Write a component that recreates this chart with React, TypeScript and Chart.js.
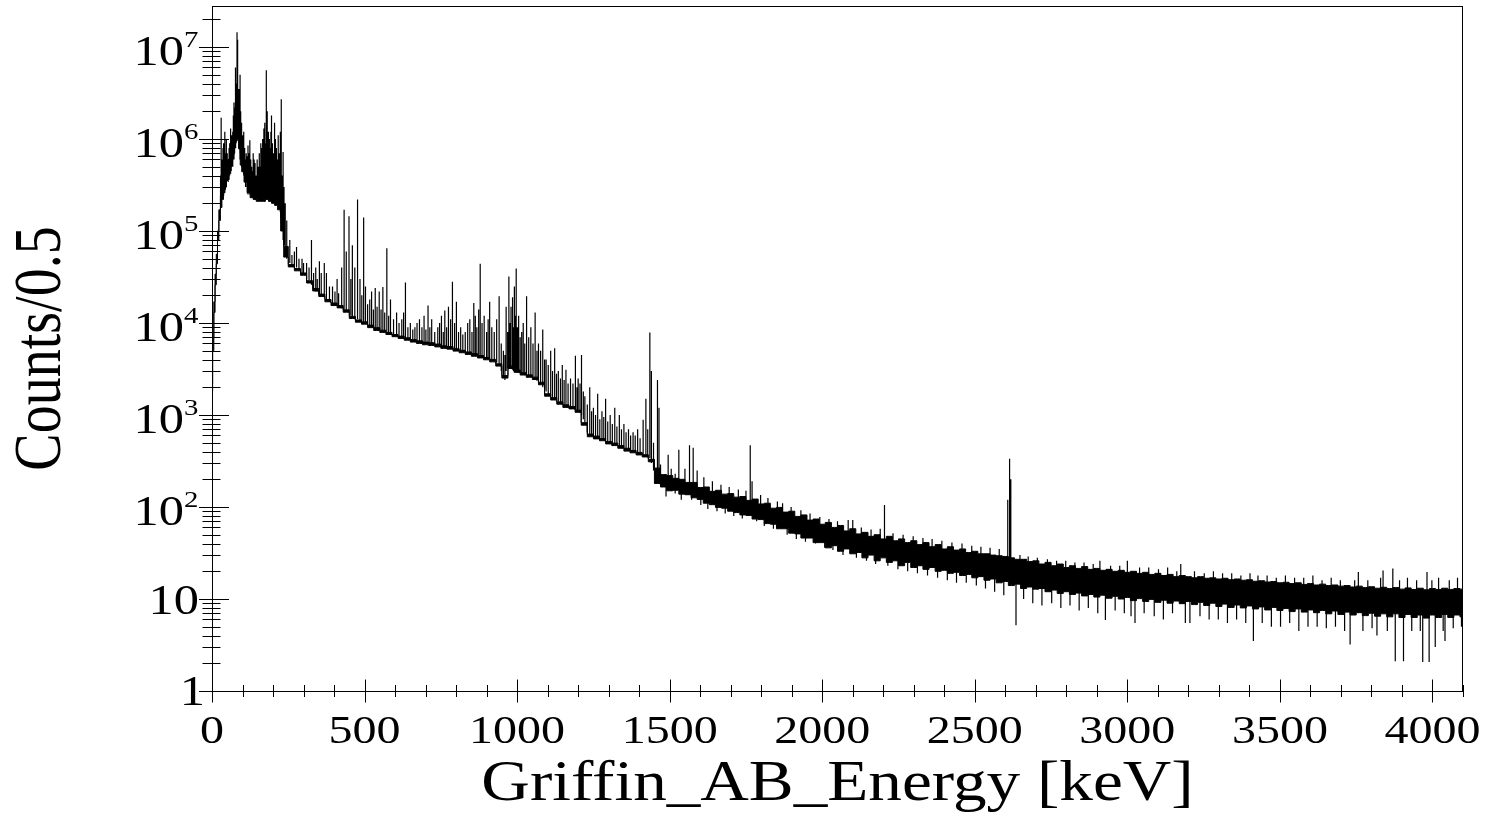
import React, { useEffect, useRef } from 'react';
import { Chart, registerables } from 'chart.js';

Chart.register(...registerables);

const X_MIN = 0;
const X_MAX = 4100;
const Y_MIN = 1;
const Y_MAX = 2.79e7;

const xTickValues = [0, 500, 1000, 1500, 2000, 2500, 3000, 3500, 4000];
const xTickLabels = ['0', '500', '1000', '1500', '2000', '2500', '3000', '3500', '4000'];
const yDecadeValues = [1, 10, 100, 1e3, 1e4, 1e5, 1e6, 1e7];
const yDecadeBase = ['1', '10', '10', '10', '10', '10', '10', '10'];
const yDecadeExp = ['', '', '2', '3', '4', '5', '6', '7'];
const xTitle = 'Griffin_AB_Energy [keV]';
const yTitle = 'Counts/0.5';

// Continuum band (lower / upper envelope of the histogram line), keV
const bandE = [
  0, 4, 8, 12, 16, 20, 25, 30, 35, 40, 45, 50, 55, 60, 65, 70, 75, 80, 85, 90, 95, 100, 110, 120, 130, 140, 150, 160, 170, 180, 190, 200, 210, 220, 230, 240,
  260, 280, 300, 320, 340, 360, 380, 400, 420, 440, 460, 480, 500, 520, 540, 560, 580, 600, 620, 640, 660, 680, 700, 720, 740, 760, 780, 800,
  820, 840, 860, 880, 900, 920, 940, 960, 980, 1000, 1020, 1040, 1060, 1080, 1100, 1120, 1140, 1160, 1180, 1200, 1220, 1240, 1260, 1280, 1300,
  1320, 1340, 1360, 1380, 1400, 1420, 1440,
  1460, 1480, 1500, 1520, 1540, 1560, 1580, 1600, 1620, 1640, 1660, 1680, 1700, 1720, 1740, 1760, 1780, 1800, 1820, 1840, 1860, 1880, 1900,
  1920, 1940, 1960, 1980, 2000, 2020, 2040, 2060, 2080, 2100, 2120, 2140, 2160, 2180, 2200, 2220, 2240, 2260, 2280, 2300, 2320, 2340, 2360,
  2380, 2400, 2420, 2440, 2460, 2480, 2500, 2520, 2540, 2560, 2580, 2600, 2620, 2640, 2660, 2680, 2700, 2720, 2740, 2760, 2780, 2800, 2820,
  2840, 2860, 2880, 2900, 2920, 2940, 2960, 2980, 3000, 3020, 3040, 3060, 3080, 3100, 3120, 3140, 3160, 3180, 3200, 3220, 3240, 3260, 3280,
  3300, 3320, 3340, 3360, 3380, 3400, 3420, 3440, 3460, 3480, 3500, 3520, 3540, 3560, 3580, 3600, 3620, 3640, 3660, 3680, 3700, 3720, 3740,
  3760, 3780, 3800, 3820, 3840, 3860, 3880, 3900, 3920, 3940, 3960, 3980, 4000, 4020, 4040, 4060, 4080, 4100,
];
const bandLo = [
  1800, 5000, 13000, 26000, 44000, 80000, 130000, 180000, 220000, 260000, 300000, 360000, 420000, 500000, 580000, 680000, 800000, 950000, 1000000, 780000, 520000, 440000, 340000, 260000, 230000, 220000, 210000, 210000, 210000, 220000, 210000, 200000, 190000, 170000, 100000, 52000,
  40700, 36900, 33000, 27200, 22300, 19400, 17000, 15500, 14600, 13100, 11200, 10200, 9700, 8900, 8300, 7900, 7500, 7100, 6800, 6500, 6200, 6000, 5800, 5700, 5500, 5300, 5200, 4950,
  4750, 4550, 4350, 4170, 3980, 3780, 3400, 2520, 3200, 2910, 2720, 2570, 2430, 2130, 1600, 1455, 1310, 1210, 1165, 1070, 775, 580, 550, 525, 485,
  465, 435, 405, 388, 368, 350, 310,
  180, 165, 150, 152, 138, 136, 126, 121, 110, 106, 99, 97, 90, 87, 82, 81, 74, 73, 66, 65, 58, 58, 52,
  51, 46, 46, 41, 41, 36, 38, 33, 35, 31, 32, 28, 30, 26, 28, 25, 26, 23, 25, 22, 23, 21, 22,
  20, 20.5, 19, 19.5, 18, 18.5, 17, 17.5, 16, 16.5, 15, 15.5, 14, 14.5, 13, 13.5, 12.8, 13, 12, 12.5, 11.5, 12, 11.2,
  11.6, 10.8, 11.2, 10.5, 11, 10.2, 10.7, 10, 10.4, 9.6, 10.1, 9.4, 9.9, 9.2, 9.7, 9, 9.5, 8.9, 9.4, 8.7, 9.2, 8.5, 9, 8.3,
  8.8, 8.1, 8.6, 8, 8.4, 7.8, 8.2, 7.6, 8.1, 7.5, 7.9, 7.3, 7.8, 7.2, 7.6, 7.1, 7.5, 6.9, 7.4, 6.8, 7.2, 6.7, 7.1,
  6.6, 7, 6.5, 6.9, 6.4, 6.9, 6.3, 6.8, 6.3, 6.7, 6.2, 6.7, 6.3, 6.8, 6.3, 6.7, 6.4, 6.6,
];
const bandHi = [
  2200, 7000, 17000, 34000, 56000, 100000, 170000, 240000, 300000, 340000, 420000, 500000, 600000, 700000, 820000, 950000, 1100000, 1300000, 1400000, 1050000, 700000, 570000, 460000, 350000, 310000, 290000, 280000, 280000, 280000, 290000, 280000, 260000, 250000, 230000, 140000, 68000,
  43300, 39100, 35000, 28800, 23700, 20600, 18000, 16500, 15500, 13900, 11800, 10800, 10300, 9500, 8900, 8350, 7900, 7500, 7200, 6900, 6600, 6400, 6200, 6100, 5900, 5650, 5550, 5250,
  5050, 4850, 4650, 4430, 4220, 4020, 3600, 2680, 3400, 3090, 2880, 2730, 2580, 2270, 1700, 1545, 1390, 1290, 1235, 1130, 825, 620, 590, 555, 515,
  495, 465, 435, 412, 392, 370, 330,
  265, 225, 220, 205, 200, 185, 185, 163, 165, 148, 152, 138, 140, 128, 130, 118, 122, 108, 110, 97, 99, 88, 90,
  79, 82, 72, 74, 65, 68, 60, 63, 55, 58, 51, 53, 48, 50, 45, 48, 43, 45, 41, 43, 39, 41, 37,
  39, 35, 37, 34, 35, 32, 33, 31, 31, 30, 29.5, 29, 28, 27, 27, 25.5, 26, 24, 25, 23, 24, 22, 23,
  21.5, 22.5, 21, 21.5, 20.5, 21, 20, 20.5, 19.5, 20, 19, 19.5, 18.5, 19, 18, 18.5, 17.5, 18, 17.5, 17, 17.5, 16.8, 17, 16.5,
  16.8, 16.2, 16.5, 16, 16.2, 15.6, 15.8, 15.3, 15.5, 15, 15.2, 14.7, 15, 14.4, 14.7, 14.2, 14.5, 14, 14.2, 13.8, 14, 13.5, 13.8,
  13.3, 13.6, 13.1, 13.4, 13, 13.3, 12.8, 13.2, 12.7, 13.1, 12.6, 13, 12.7, 13.1, 12.7, 13, 12.8, 13,
];

// Vertical strokes (peaks and hairs), from Lo to Hi at energy E — low-energy part
const lowPeakE = [
  28, 30, 33, 36, 38, 40, 42, 44, 47, 50,
  53, 56, 58, 61, 63, 65, 68, 70, 72, 74,
  77, 79, 82, 84, 86, 88, 90, 92, 94, 97,
  99, 101, 104, 107, 110, 112, 115, 118, 121, 124,
  127, 130, 133, 135, 138, 141, 145, 148, 152, 155,
  158, 160, 163, 166, 170, 173, 175, 178, 181, 185,
  188, 190, 193, 195, 198, 202, 205, 208, 211, 214,
  217, 220, 224, 227, 230, 233, 236, 240, 245,
];
const lowPeakLo = [
  1.8e5, 2.2e5, 2.2e5, 2.5e5, 2.4e5, 2.6e5, 3e5, 2.8e5, 3e5, 3.5e5,
  3.4e5, 3.6e5, 4e5, 4.2e5, 4.5e5, 5e5, 5e5, 6e5, 6e5, 7e5,
  8e5, 9e5, 1e6, 1e6, 1e6, 8e5, 8e5, 6e5, 6e5, 5e5,
  5e5, 4.5e5, 4e5, 4e5, 3e5, 3.5e5, 3e5, 2.5e5, 2.7e5, 2.5e5,
  2.6e5, 2.5e5, 2.5e5, 2.4e5, 2.4e5, 2.4e5, 2.4e5, 2.3e5, 2.3e5, 2.3e5,
  2.3e5, 2.3e5, 2.3e5, 2.3e5, 2.3e5, 2.3e5, 2.3e5, 2.3e5, 2.3e5, 2.3e5,
  2.3e5, 2.2e5, 2.2e5, 2.2e5, 2.2e5, 2.2e5, 2.1e5, 2.1e5, 2e5, 2e5,
  1.9e5, 1.8e5, 1.6e5, 1.2e5, 1e5, 8e4, 7e4, 6e4, 5e4,
];
const lowPeakHi = [
  4e5, 1.7e6, 6e5, 8e5, 9e5, 5e5, 1.2e6, 7e5, 1e6, 7e5,
  6e5, 8e5, 9e5, 1.3e6, 8e5, 1.1e6, 1.2e6, 1.8e6, 2.5e6, 2.2e6,
  6e6, 4e6, 1.45e7, 1.2e7, 3e6, 3.5e6, 2.5e6, 5e6, 2e6, 1.5e6,
  9e5, 1.1e6, 1.2e6, 8e5, 6e5, 7e5, 6.5e5, 8.5e5, 7e5, 9.7e5,
  6e5, 5e5, 4.5e5, 7e5, 6e5, 5.5e5, 4e5, 6e5, 5e5, 7e5,
  5e5, 9e5, 8e5, 1e6, 1.3e6, 1.5e6, 9e5, 5.6e6, 2e6, 1.2e6,
  1e6, 8e5, 1.2e6, 1.8e6, 9e5, 7e5, 1.5e6, 1e6, 8e5, 6e5,
  1.1e6, 7e5, 1.2e6, 2.7e6, 4e5, 7.2e5, 3e5, 2e5, 1.3e5,
];

// Mid-energy part
const midPeakE = [
  255, 262, 270, 277, 285, 295, 300, 310, 318, 326,
  333, 340, 345, 352, 358, 368, 375, 385, 395, 403,
  410, 415, 425, 433, 440, 449, 455, 460, 468, 477,
  485, 491, 497, 503, 510, 517, 523, 529, 535, 541,
  548, 554, 560, 566, 573, 579, 585, 595, 605, 613,
  622, 628, 634, 642, 650, 658, 665, 672, 680, 688,
  695, 701, 708, 714, 720, 730, 740, 746, 752, 758,
  763, 769, 775, 782, 788, 795, 801, 808, 815, 822,
  830, 838, 845, 852, 858, 863, 868, 874, 879, 885,
  892, 900, 905, 910, 917, 925, 933, 941, 948, 955,
  960, 964, 969, 973, 977, 980, 985, 988, 991, 994,
  997, 1001, 1005, 1010, 1015, 1020, 1025, 1031, 1038, 1045,
  1052, 1059, 1065, 1070, 1077, 1084, 1090, 1095, 1102, 1110,
  1116, 1123, 1129, 1135, 1142, 1148, 1154, 1160, 1167, 1175,
  1183, 1191, 1196, 1200, 1206, 1211, 1217, 1222, 1230, 1238,
  1244, 1250, 1257, 1264, 1271, 1278, 1284, 1290, 1297, 1305,
  1312, 1320, 1327, 1335, 1342, 1350, 1357, 1365, 1372, 1380,
  1387, 1395, 1403, 1413, 1422, 1428, 1435, 1440, 1447, 1460,
  1465,
];
const midPeakLo = [
  4.5e4, 4.2e4, 4e4, 4e4, 3.8e4, 3.5e4, 3.4e4, 3e4, 2.9e4, 2.6e4,
  2.4e4, 2.2e4, 2.2e4, 2e4, 2e4, 1.9e4, 1.8e4, 1.7e4, 1.6e4, 1.6e4,
  1.55e4, 1.5e4, 1.45e4, 1.4e4, 1.35e4, 1.3e4, 1.2e4, 1.15e4, 1.1e4, 1.1e4,
  1.05e4, 1e4, 1e4, 9.8e3, 9.6e3, 9.4e3, 9.2e3, 9e3, 8.8e3, 8.6e3,
  8.4e3, 8.2e3, 8e3, 7.9e3, 7.8e3, 7.7e3, 7.6e3, 7.4e3, 7.2e3, 7.1e3,
  7e3, 6.9e3, 6.8e3, 6.7e3, 6.5e3, 6.4e3, 6.3e3, 6.3e3, 6.2e3, 6.1e3,
  6e3, 6e3, 6e3, 5.9e3, 5.9e3, 5.8e3, 5.7e3, 5.6e3, 5.6e3, 5.5e3,
  5.5e3, 5.4e3, 5.4e3, 5.3e3, 5.3e3, 5.2e3, 5.1e3, 5e3, 5e3, 4.9e3,
  4.8e3, 4.7e3, 4.6e3, 4.55e3, 4.5e3, 4.45e3, 4.4e3, 4.35e3, 4.3e3, 4.25e3,
  4.2e3, 4.1e3, 4.05e3, 4e3, 3.95e3, 3.9e3, 3.7e3, 3.6e3, 3e3, 2.6e3,
  2.4e3, 3e3, 3.2e3, 3.3e3, 3.2e3, 3.2e3, 3.1e3, 3e3, 3e3, 3e3,
  3e3, 2.9e3, 2.9e3, 2.85e3, 2.8e3, 2.75e3, 2.7e3, 2.7e3, 2.65e3, 2.6e3,
  2.5e3, 2.4e3, 2.35e3, 2.3e3, 2.2e3, 2e3, 1.9e3, 1.8e3, 1.65e3, 1.6e3,
  1.55e3, 1.5e3, 1.45e3, 1.4e3, 1.35e3, 1.3e3, 1.28e3, 1.25e3, 1.22e3, 1.2e3,
  1.18e3, 1.15e3, 1.12e3, 1.1e3, 1.05e3, 1e3, 900, 800, 650, 620,
  600, 580, 570, 560, 550, 540, 530, 520, 510, 500,
  490, 480, 470, 465, 450, 440, 430, 420, 410, 400,
  390, 380, 370, 360, 350, 345, 340, 300, 250, 210,
  200,
];
const midPeakHi = [
  8e4, 5.5e4, 6e4, 6.7e4, 5e4, 5e4, 4.5e4, 4.5e4, 4e4, 8e4,
  3.5e4, 4e4, 3e4, 4.7e4, 3.5e4, 4.5e4, 3.5e4, 2.5e4, 2.5e4, 2.2e4,
  3e4, 2.1e4, 4e4, 1.7e5, 6e4, 1.45e5, 3e4, 7e4, 4e4, 2.2e5,
  3e4, 2e4, 1.4e5, 2.5e4, 1.6e4, 1.8e4, 2.2e4, 1.4e4, 2.4e4, 1.5e4,
  2.2e4, 1.4e4, 2.46e4, 1.3e4, 6.5e4, 1.2e4, 1.8e4, 1.1e4, 1.3e4, 1e4,
  1.1e4, 1.3e4, 2.75e4, 9e3, 1e4, 8.5e3, 9e3, 1e4, 1.1e4, 9e3,
  1.2e4, 8.5e3, 1.55e4, 9e3, 1.1e4, 8e3, 9e3, 1e4, 1.2e4, 8e3,
  1.37e4, 9e3, 1.5e4, 1.1e4, 2.8e4, 1e4, 1.7e4, 8e3, 9e3, 7.5e3,
  8e3, 1e4, 1.1e4, 8e3, 1.65e4, 1.2e4, 9e3, 1.4e4, 4.4e4, 1e4,
  1.2e4, 8e3, 1.1e4, 1.7e4, 9e3, 8e3, 1.1e4, 1.95e4, 6e3, 5e3,
  4.5e3, 1.5e4, 8e3, 3.2e4, 1e4, 1.5e4, 1.9e4, 9e3, 2.5e4, 1.2e4,
  3.9e4, 9e3, 1.2e4, 7e3, 8e3, 1e4, 6e3, 1.95e4, 7e3, 9e3,
  6e3, 1.3e4, 5e3, 6e3, 5e3, 8.5e3, 4e3, 4e3, 3.5e3, 5e3,
  3e3, 5.3e3, 2.8e3, 3e3, 2.5e3, 3.5e3, 2.4e3, 3.1e3, 2.2e3, 2.5e3,
  2.2e3, 4.4e3, 2e3, 2.5e3, 2.2e3, 4.5e3, 1.8e3, 1.6e3, 1.3e3, 2e3,
  1.1e3, 1.2e3, 1e3, 1.7e3, 900, 1.1e3, 950, 1.5e3, 850, 1e3,
  800, 1.2e3, 750, 1e3, 700, 800, 650, 700, 600, 650,
  600, 700, 560, 890, 1.5e3, 700, 7.9e3, 3e3, 500, 2.4e3,
  1.2e3,
];

// High-energy part
const highPeakE = [
  1470, 1488, 1495, 1505, 1518, 1530, 1538, 1550, 1565, 1572,
  1577, 1590, 1602, 1612, 1625, 1640, 1655, 1668, 1682, 1695,
  1710, 1725, 1738, 1750, 1764, 1770, 1785, 1798, 1810, 1822,
  1840, 1853, 1870, 1885, 1898, 1915, 1930, 1945, 1960, 1978,
  1992, 2008, 2022, 2035, 2050, 2068, 2085, 2100, 2112, 2128,
  2145, 2160, 2175, 2190, 2204, 2215, 2232, 2248, 2265, 2280,
  2298, 2312, 2330, 2345, 2360, 2378, 2392, 2410, 2425, 2440,
  2458, 2472, 2490, 2505, 2520, 2535, 2550, 2565, 2580, 2595,
  2608, 2614, 2618, 2635, 2648, 2660, 2675, 2690, 2705, 2720,
  2738, 2752, 2768, 2782, 2798, 2812, 2828, 2842, 2858, 2872,
  2888, 2903, 2910, 2928, 2945, 2960, 2975, 2990, 3000, 3012,
  3025, 3040, 3055, 3070, 3088, 3102, 3118, 3132, 3148, 3162,
  3175, 3190, 3205, 3220, 3238, 3252, 3268, 3282, 3298, 3312,
  3328, 3342, 3358, 3372, 3388, 3402, 3413, 3428, 3442, 3458,
  3472, 3488, 3502, 3518, 3532, 3548, 3562, 3578, 3592, 3608,
  3622, 3638, 3652, 3668, 3682, 3698, 3712, 3730, 3745, 3757,
  3772, 3788, 3802, 3818, 3830, 3838, 3852, 3870, 3878, 3892,
  3905, 3918, 3932, 3948, 3960, 3968, 3982, 3989, 3998, 4009,
  4020, 4035, 4041, 4055, 4068, 4082, 4095,
];
const highPeakLo = [
  170, 130, 180, 150, 140, 170, 120, 155, 150, 120,
  150, 140, 105, 135, 95, 125, 90, 120, 85, 110,
  80, 105, 75, 100, 100, 95, 70, 90, 62, 85,
  58, 78, 70, 50, 68, 45, 62, 42, 57, 40,
  52, 36, 50, 34, 47, 30, 44, 42, 28, 40,
  26, 38, 24, 37, 36, 23, 34, 21, 33, 20,
  31, 19, 30, 18, 29, 17, 28, 16, 26, 15,
  25, 15, 24, 14, 23, 13, 22, 12, 21, 11,
  20, 20, 20, 5.2, 19, 10, 18, 9, 18, 8.5,
  17, 9, 17, 8, 16, 8.5, 16, 7.5, 15, 8,
  15, 7, 15, 5.9, 14, 7.5, 14, 7, 14, 6.5,
  5.5, 13, 7, 13, 6.5, 13, 6, 13, 7, 12,
  12, 5.5, 5.5, 12, 6.5, 12, 6, 12, 6, 11,
  5.5, 11, 6, 11, 5.5, 11, 3.5, 11, 5.5, 10,
  5, 10, 5, 10, 5.5, 10, 4.5, 10, 5, 10,
  5, 9.5, 4.8, 9.5, 5, 9.5, 4.5, 3.2, 9.5, 9.5,
  4.5, 9, 4.8, 4, 9, 9, 4.5, 9, 2.1, 9,
  2.1, 9, 4.5, 9, 4.5, 2.07, 9, 2.07, 9, 3.0,
  9, 4.5, 3.5, 9, 4.8, 9, 5,
];
const highPeakHi = [
  290, 200, 370, 260, 230, 420, 190, 260, 470, 170,
  440, 250, 150, 210, 140, 190, 130, 175, 120, 165,
  115, 155, 110, 150, 470, 190, 100, 135, 90, 125,
  85, 115, 110, 75, 100, 68, 92, 62, 85, 58,
  78, 52, 74, 50, 70, 46, 72, 72, 42, 60,
  40, 57, 37, 58, 105, 35, 52, 33, 50, 32,
  48, 30, 46, 29, 45, 28, 43, 27, 41, 25,
  40, 24, 38, 23, 37, 22, 36, 22, 35, 21,
  120, 335, 200, 18, 30, 18, 29, 17, 28, 17,
  27, 16, 26, 16, 26, 15, 25, 15, 25, 14,
  24, 14, 26, 14, 23, 14, 23, 13, 26, 13,
  13, 22, 13, 22, 12, 21, 12, 22, 12, 20,
  24, 12, 12, 20, 12, 19, 11, 20, 11, 19,
  11, 19, 11, 18, 11, 19, 10, 18, 10, 18,
  10, 17, 10, 18, 10, 17, 10, 17, 10, 18,
  9.5, 16, 9.5, 17, 9.5, 16, 9.5, 9, 16, 19.6,
  9, 16, 9, 9, 17, 20.4, 9, 21.5, 9, 16,
  9, 17, 9, 16, 9, 9, 19.6, 9, 16, 9,
  17, 9, 9, 16, 9, 17, 9,
];

const SX = 1.2;
const FONT = '"Liberation Serif", "Times New Roman", Times, serif';

function drawText(ctx: CanvasRenderingContext2D, text: string, x: number, y: number, size: number, align: CanvasTextAlign) {
  ctx.save();
  ctx.translate(x, y);
  ctx.scale(SX, 1);
  ctx.font = `${size}px ${FONT}`;
  ctx.textAlign = align;
  ctx.textBaseline = 'alphabetic';
  ctx.fillStyle = '#000';
  ctx.fillText(text, 0, 0);
  ctx.restore();
}

const rootAxes = {
  id: 'rootAxes',
  afterDraw(chart: any) {
    const { ctx, chartArea: a, scales } = chart;
    const xs = scales.x;
    const ys = scales.y;
    ctx.save();
    ctx.strokeStyle = '#000';
    ctx.lineWidth = 1;
    ctx.strokeRect(a.left + 0.5, a.top + 0.5, a.right - a.left - 1, a.bottom - a.top);
    ctx.beginPath();
    for (let v = X_MIN; v <= X_MAX; v += 100) {
      const px = Math.round(xs.getPixelForValue(v)) + 0.5;
      const major = v % 500 === 0;
      const len = major ? 11.5 : 6;
      ctx.moveTo(px, a.bottom - len);
      ctx.lineTo(px, a.bottom + len);
    }
    for (let k = 0; k < yDecadeValues.length; k++) {
      for (let m = 1; m <= 9; m++) {
        const val = yDecadeValues[k] * m;
        if (val > Y_MAX) break;
        const py = Math.round(ys.getPixelForValue(val)) + 0.5;
        if (m === 1) {
          ctx.moveTo(a.left - 13, py);
          ctx.lineTo(a.left + 17, py);
        } else {
          ctx.moveTo(a.left - 9.5, py);
          ctx.lineTo(a.left + 8.5, py);
        }
      }
    }
    ctx.stroke();
    xTickValues.forEach((v, i) => {
      drawText(ctx, xTickLabels[i], xs.getPixelForValue(v), a.bottom + 52, 40, 'center');
    });
    yDecadeValues.forEach((v, i) => {
      const py = ys.getPixelForValue(v);
      const base = yDecadeBase[i];
      const exp = yDecadeExp[i];
      if (exp === '') {
        if (base === '1') drawText(ctx, base, a.left - 7, py + 14, 42, 'right');
        else drawText(ctx, base, a.left - 13, py + 15, 42, 'right');
      } else {
        drawText(ctx, base, a.left - 28, py + 18, 42, 'right');
        drawText(ctx, exp, a.left - 28, py, 24, 'left');
      }
    });
    drawText(ctx, xTitle, (a.left + a.right) / 2, 800, 56, 'center');
    ctx.save();
    ctx.translate(60, (a.top + a.bottom) / 2);
    ctx.rotate(-Math.PI / 2);
    ctx.scale(1, SX);
    ctx.font = `56px ${FONT}`;
    ctx.textAlign = 'center';
    ctx.textBaseline = 'alphabetic';
    ctx.fillStyle = '#000';
    ctx.fillText(yTitle, 0, 0);
    ctx.restore();
    ctx.restore();
  },
};

function strokes(es: number[], los: number[], his: number[]) {
  const out: any[] = [];
  es.forEach((e, i) => {
    out.push({ x: e, y: los[i] });
    out.push({ x: e, y: his[i] });
    out.push({ x: e, y: null });
  });
  return out;
}

export default function App() {
  const ref = useRef<HTMLCanvasElement>(null);
  useEffect(() => {
    const canvas = ref.current;
    if (!canvas) return;
    const spikeData = [
      ...strokes(lowPeakE, lowPeakLo, lowPeakHi),
      ...strokes(midPeakE, midPeakLo, midPeakHi),
      ...strokes(highPeakE, highPeakLo, highPeakHi),
    ];
    const chart = new Chart(canvas, {
      type: 'line',
      data: {
        datasets: [
          {
            data: bandE.map((e, i) => ({ x: e, y: bandHi[i] })),
            borderColor: '#000',
            backgroundColor: '#000',
            borderWidth: 1,
            pointRadius: 0,
            stepped: 'middle',
            fill: '+1',
          },
          {
            data: bandE.map((e, i) => ({ x: e, y: bandLo[i] })),
            borderColor: '#000',
            backgroundColor: '#000',
            borderWidth: 1,
            pointRadius: 0,
            stepped: 'middle',
            fill: false,
          },
          {
            data: spikeData,
            borderColor: '#000',
            borderWidth: 1.2,
            pointRadius: 0,
            spanGaps: false,
            fill: false,
          },
        ],
      } as any,
      options: {
        animation: false,
        responsive: false,
        devicePixelRatio: 1,
        layout: { padding: { left: 212, right: 26, top: 6, bottom: 132 } },
        scales: {
          x: { type: 'linear', min: X_MIN, max: X_MAX, display: false },
          y: { type: 'logarithmic', min: Y_MIN, max: Y_MAX, display: false },
        },
        plugins: { legend: { display: false }, tooltip: { enabled: false } },
        events: [],
      } as any,
      plugins: [rootAxes],
    });
    return () => chart.destroy();
  }, []);
  return (
    <div style={{ position: 'absolute', left: 0, top: 0, width: 1489, height: 823, background: '#fff' }}>
      <canvas ref={ref} width={1489} height={823} style={{ display: 'block' }} />
    </div>
  );
}
